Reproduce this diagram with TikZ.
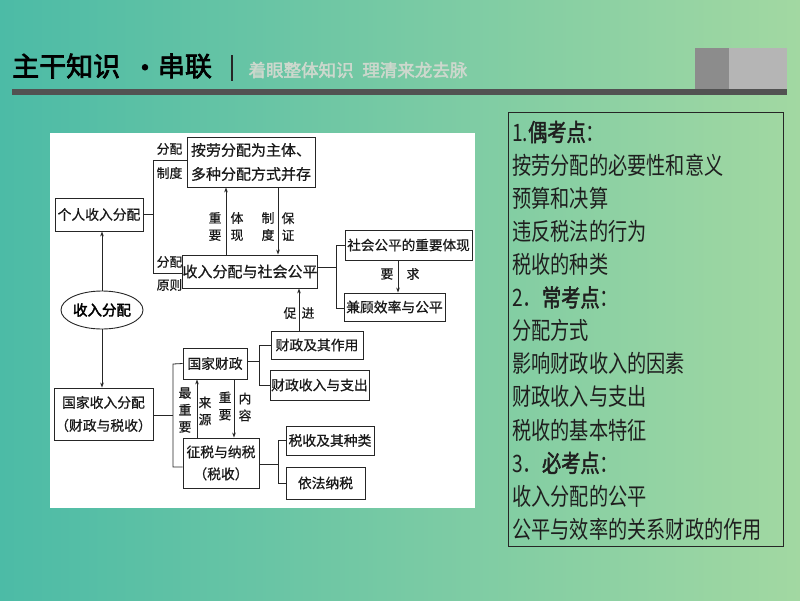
\documentclass[tikz,border=0pt]{standalone}
\usepackage{fontspec}
\usetikzlibrary{arrows.meta,shapes.geometric}
\newfontfamily\cjk[FakeBold=0.6]{Noto Sans CJK SC}
\newfontfamily\cjkb[FakeBold=2.5]{Noto Sans CJK SC}
\newfontfamily\rtf[FakeStretch=0.8]{Noto Sans CJK SC}
\newfontfamily\rtfb[FakeStretch=0.8,FakeBold=2]{Noto Sans CJK SC}
\definecolor{bgL}{RGB}{76,187,166}
\definecolor{bgR}{RGB}{162,216,162}
\definecolor{subc}{RGB}{205,216,205}
\tikzset{
  box/.style={draw=black!85, line width=0.9pt, fill=white, inner sep=0pt, text=black!90,
    font=\cjk\fontsize{13.8}{17}\selectfont},
  lbl/.style={inner sep=0pt, align=center, text=black!90, font=\cjk\fontsize{12.8}{17}\selectfont},
  conn/.style={line width=0.8pt, draw=black!85},
  arr/.style={conn, -{Stealth[length=5pt,width=3.6pt]}},
  rt/.style={anchor=west, inner sep=0pt, text=black!88, font=\rtf\fontsize{24}{26}\selectfont}
}
\begin{document}
\begin{tikzpicture}[x=1pt,y=-1pt]
\useasboundingbox (0,0) rectangle (800,600);
\shade[left color=bgL, right color=bgR] (0,0) rectangle (800,600);
% header
\node[anchor=west, inner sep=0pt, font=\cjkb\fontsize{27}{30}\selectfont] (t1) at (12,66) {主干知识};
\node[inner sep=0pt, font=\cjkb\fontsize{27}{30}\selectfont] (t2) at (145,71) {•};
\node[inner sep=0pt, font=\cjkb\fontsize{27}{30}\selectfont] (t3) at (185,66) {串联};
\draw[line width=2.2pt, black!85] (232,55) -- (232,81);
\node[inner sep=0pt, text=subc, font=\cjkb\fontsize{17.5}{20}\selectfont] (sub) at (358,70) {着眼整体知识\hspace{0.5em}理清来龙去脉};
\fill[black!68] (12,89) rectangle (787,95);
\fill[black!45] (695,48) rectangle (729,89);
\fill[black!29] (729,48) rectangle (787,89);
% diagram panel
\fill[white] (50,133) rectangle (475,508);
% nodes
\node[box, minimum width=128pt, minimum height=50pt, align=left, font=\cjk\fontsize{15}{24}\selectfont] (anlao) at (251,162) {按劳分配为主体、\\多种分配方式并存};
\node[box, minimum width=88pt, minimum height=33pt] (geren) at (99,214.5) {个人收入分配};
\node[draw=black!85, line width=0.9pt, ellipse, inner sep=0pt, minimum width=77pt, minimum height=38pt, font=\cjkb\fontsize{14.5}{17}\selectfont] (shouru) at (102,310) {收入分配};
\node[box, minimum width=99pt, minimum height=52pt, align=center, font=\cjk\fontsize{13.8}{23}\selectfont] (guojia) at (103.5,414) {国家收入分配\\（财政与税收）};
\node[box, minimum width=134pt, minimum height=33pt, font=\cjk\fontsize{15}{17}\selectfont] (gongping) at (250,271.5) {收入分配与社会公平};
\node[box, minimum width=127pt, minimum height=30pt, font=\cjk\fontsize{13.6}{17}\selectfont] (tixian) at (408.5,245) {社会公平的重要体现};
\node[box, minimum width=101pt, minimum height=28pt] (jiangu) at (394.5,307) {兼顾效率与公平};
\node[box, minimum width=92pt, minimum height=28pt] (zuoyong) at (317,345) {财政及其作用};
\node[box, minimum width=99pt, minimum height=30pt] (shouzhi) at (319.5,385) {财政收入与支出};
\node[box, minimum width=64pt, minimum height=31pt] (caizheng) at (215,363.5) {国家财政};
\node[box, minimum width=76pt, minimum height=50pt, align=center, font=\cjk\fontsize{13.8}{22}\selectfont] (zhengshui) at (221,463) {征税与纳税\\（税收）};
\node[box, minimum width=88pt, minimum height=29pt] (zhonglei) at (330,440.5) {税收及其种类};
\node[box, minimum width=79pt, minimum height=32pt] (yifa) at (325.5,483) {依法纳税};
% bracket coordinates
\coordinate (b1t) at (153,160);
\coordinate (b1b) at (153,273);
\coordinate (b2t) at (336,245);
\coordinate (b2b) at (336,308);
\coordinate (b3t) at (259,345);
\coordinate (b3b) at (259,385);
\coordinate (b4t) at (173,364);
\coordinate (b4b) at (173,467);
\coordinate (b5t) at (278,440.5);
\coordinate (b5b) at (278,483);
% connectors
\draw[conn] (anlao.west |- b1t) -- (b1t) -- (b1b) -- (gongping.west |- b1b);
\draw[conn] (geren.east) -- (geren.east -| b1t);
\draw[arr] (shouru.north) -- (geren.south -| shouru.north);
\draw[arr] (shouru.south) -- (guojia.north -| shouru.south);
\draw[arr] ([xshift=-24pt]gongping.north) -- ([xshift=-24pt]gongping.north |- anlao.south);
\draw[arr] ([xshift=27pt]anlao.south) -- ([xshift=27pt]anlao.south |- gongping.north);
\draw[conn] (tixian.west) -- (b2t) -- (b2b) -- (jiangu.west |- b2b);
\draw[conn] ([yshift=4pt]gongping.east) -- ([yshift=4pt]gongping.east -| b2t);
\draw[arr] ([xshift=-10.5pt]tixian.south) -- ([xshift=-10.5pt]tixian.south |- jiangu.north);
\draw[arr] ([xshift=-18pt]zuoyong.north) -- ([xshift=-18pt]zuoyong.north |- gongping.south);
\draw[conn] (zuoyong.west) -- (b3t) -- (b3b) -- (shouzhi.west);
\draw[conn] ([yshift=2pt]caizheng.east) -- ([yshift=2pt]caizheng.east -| b3t);
\draw[conn] (caizheng.west) -- (b4t) -- (b4b) -- (zhengshui.west |- b4b);
\draw[conn] ([yshift=-1pt]guojia.east) -- ([yshift=-1pt]guojia.east -| b4t);
\draw[arr] ([xshift=-24pt]zhengshui.north) -- ([xshift=-24pt]zhengshui.north |- caizheng.south);
\draw[arr] ([xshift=19pt]caizheng.south) -- ([xshift=19pt]caizheng.south |- zhengshui.north);
\draw[conn] (zhonglei.west) -- (b5t) -- (b5b) -- (yifa.west);
\draw[conn] ([yshift=-1pt]zhengshui.east) -- ([yshift=-1pt]zhengshui.east -| b5t);
% labels
\node[lbl] (la1) at (169.5,149) {分配};
\node[lbl] (la2) at (169.5,173) {制度};
\node[lbl] (la3) at (169.5,262) {分配};
\node[lbl] (la4) at (169.5,285) {原则};
\node[lbl] (lv1) at (215,226.5) {重\\要};
\node[lbl] (lv2) at (237,226.5) {体\\现};
\node[lbl] (lv3) at (268,226.5) {制\\度};
\node[lbl] (lv4) at (288,226.5) {保\\证};
\node[lbl] (lh1) at (387,274) {要};
\node[lbl] (lh2) at (413,274) {求};
\node[lbl] (lh3) at (290,313) {促};
\node[lbl] (lh4) at (308,313) {进};
\node[lbl] (lv5) at (185,410) {最\\重\\要};
\node[lbl] (lv6) at (205,411) {来\\源};
\node[lbl] (lv7) at (225,406) {重\\要};
\node[lbl] (lv8) at (245,407) {内\\容};
% right panel
\draw[line width=0.9pt, black!85] (508,112) rectangle (783,546);
\node[rt] (r1) at (512,132) {1.{\rtfb 偶考点}：};
\node[rt] (r2) at (512,165.1) {按劳分配的必要性和意义};
\node[rt] (r3) at (512,198.2) {预算和决算};
\node[rt] (r4) at (512,231.3) {违反税法的行为};
\node[rt] (r5) at (512,264.4) {税收的种类};
\node[rt] (r6) at (512,297.5) {2．{\rtfb 常考点}：};
\node[rt] (r7) at (512,330.6) {分配方式};
\node[rt] (r8) at (512,363.7) {影响财政收入的因素};
\node[rt] (r9) at (512,396.8) {财政收入与支出};
\node[rt] (r10) at (512,429.9) {税收的基本特征};
\node[rt] (r11) at (512,463) {3．{\rtfb 必考点}：};
\node[rt] (r12) at (512,496.1) {收入分配的公平};
\node[rt] (r13) at (512,529.2) {公平与效率的关系财政的作用};
\end{tikzpicture}
\end{document}
